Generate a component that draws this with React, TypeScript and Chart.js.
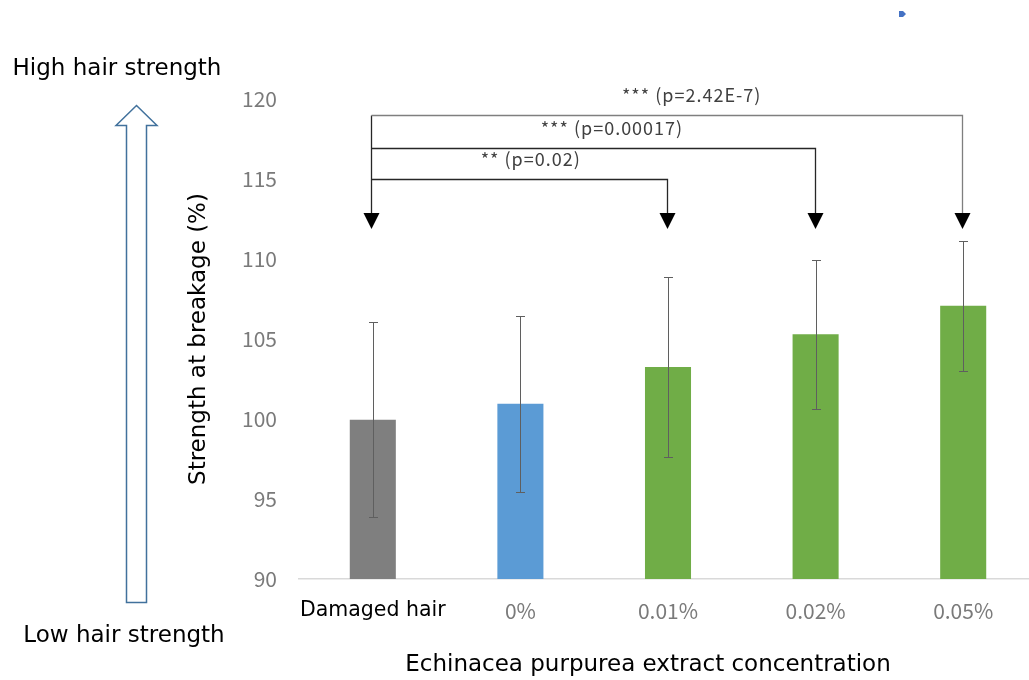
import React, { useEffect, useRef } from 'react';
import { Chart, registerables } from 'chart.js';

Chart.register(...registerables);

const categories = ['Damaged hair', '0%', '0.01%', '0.02%', '0.05%'];
const strengthMeans = [99.95, 100.95, 103.25, 105.3, 107.08];
const strengthErrors = [6.1, 5.5, 5.6, 4.65, 4.05];
const barColors = ['#7f7f7f', '#5b9bd5', '#70ad47', '#70ad47', '#70ad47'];
const yTickValues = [90, 95, 100, 105, 110, 115, 120];

// significance brackets (category indices, bracket level in axis units, label)
const bracketFrom = [0, 0, 0];
const bracketTo = [2, 3, 4];
const bracketLevels = [115, 116.95, 119];
const bracketLabels = ['** (p=0.02)', '*** (p=0.00017)', '*** (p=2.42E-7)'];
const bracketLabelPos = [1.07, 1.62, 2.16];
const bracketColors = ['#262626', '#262626', '#7f7f7f'];
const arrowTipLevel = 111.875;

const sideTopText = 'High hair strength';
const sideBottomText = 'Low hair strength';
const xTitleText = 'Echinacea purpurea extract concentration';
const yTitleText = 'Strength at breakage (%)';

const overlayPlugin = {
  id: 'overlay',
  afterDraw(chart: any) {
    const { ctx } = chart;
    const x = chart.scales.x;
    const y = chart.scales.y;
    const x0 = x.getPixelForValue(0);
    const step = x.getPixelForValue(1) - x0;
    const px = (v: number) => x0 + v * step;
    ctx.save();

    // error bars
    ctx.strokeStyle = '#5f5f5f';
    ctx.lineWidth = 1;
    strengthMeans.forEach((m, i) => {
      const cx = Math.round(px(i)) + 0.5;
      const t = Math.round(y.getPixelForValue(m + strengthErrors[i])) + 0.5;
      const b = Math.round(y.getPixelForValue(m - strengthErrors[i])) + 0.5;
      ctx.beginPath();
      ctx.moveTo(cx, t);
      ctx.lineTo(cx, b);
      ctx.moveTo(cx - 4.5, t);
      ctx.lineTo(cx + 4.5, t);
      ctx.moveTo(cx - 4.5, b);
      ctx.lineTo(cx + 4.5, b);
      ctx.stroke();
    });

    // brackets
    const tipY = y.getPixelForValue(arrowTipLevel);
    const headH = 16;
    const headW = 8;
    const baseY = tipY - headH;
    const fromX = Math.round(px(bracketFrom[0])) - 1.5;
    const topLevel = Math.max(...bracketLevels);
    ctx.lineWidth = 1.3;
    ctx.strokeStyle = '#262626';
    ctx.beginPath();
    ctx.moveTo(fromX, Math.round(y.getPixelForValue(topLevel)) + 0.5);
    ctx.lineTo(fromX, baseY);
    ctx.stroke();
    const heads: number[] = [fromX];
    bracketLevels.forEach((lvl, i) => {
      const ly = Math.round(y.getPixelForValue(lvl)) + 0.5;
      const tx = Math.round(px(bracketTo[i])) - 0.5;
      ctx.strokeStyle = bracketColors[i];
      ctx.beginPath();
      ctx.moveTo(fromX, ly);
      ctx.lineTo(tx, ly);
      ctx.lineTo(tx, baseY);
      ctx.stroke();
      heads.push(tx);
      ctx.fillStyle = '#404040';
      ctx.font = '18px "Noto Sans CJK JP"';
      try {
        (ctx as any).letterSpacing = '1px';
      } catch (e) {
        /* ignore */
      }
      ctx.textAlign = 'center';
      ctx.textBaseline = 'middle';
      ctx.fillText(bracketLabels[i], px(bracketLabelPos[i]), ly - 20);
      try {
        (ctx as any).letterSpacing = '0px';
      } catch (e) {
        /* ignore */
      }
    });
    ctx.fillStyle = '#000';
    heads.forEach((hx) => {
      ctx.beginPath();
      ctx.moveTo(hx - headW, baseY);
      ctx.lineTo(hx + headW, baseY);
      ctx.lineTo(hx, tipY);
      ctx.closePath();
      ctx.fill();
    });

    // left hollow arrow
    ctx.beginPath();
    ctx.moveTo(136.5, 105.5);
    ctx.lineTo(157, 125.5);
    ctx.lineTo(146.5, 125.5);
    ctx.lineTo(146.5, 602.5);
    ctx.lineTo(126.5, 602.5);
    ctx.lineTo(126.5, 125.5);
    ctx.lineTo(116, 125.5);
    ctx.closePath();
    ctx.fillStyle = '#ffffff';
    ctx.fill();
    ctx.strokeStyle = '#41719c';
    ctx.lineWidth = 1.5;
    ctx.stroke();

    // small blue marker at top
    ctx.beginPath();
    ctx.moveTo(899, 11);
    ctx.lineTo(903, 11);
    ctx.lineTo(906, 14);
    ctx.lineTo(903, 17);
    ctx.lineTo(899, 17);
    ctx.closePath();
    ctx.fillStyle = '#4472c4';
    ctx.fill();

    // side texts and x title
    ctx.fillStyle = '#000';
    ctx.font = '23px "DejaVu Sans"';
    ctx.textAlign = 'center';
    ctx.textBaseline = 'alphabetic';
    ctx.fillText(sideTopText, 117, 75);
    ctx.fillText(sideBottomText, 124, 642);
    ctx.fillText(xTitleText, 648, 671);
    ctx.restore();
  },
};

export default function App() {
  const ref = useRef<HTMLCanvasElement>(null);
  useEffect(() => {
    const chart = new Chart(ref.current as HTMLCanvasElement, {
      type: 'bar',
      data: {
        labels: categories,
        datasets: [
          {
            data: strengthMeans,
            backgroundColor: barColors,
            borderWidth: 0,
            barPercentage: 0.312,
            categoryPercentage: 1,
          },
        ],
      },
      options: {
        responsive: false,
        animation: false,
        events: [],
        layout: { padding: { top: 99, left: 0, right: 0, bottom: 0 } },
        plugins: { legend: { display: false }, tooltip: { enabled: false } },
        scales: {
          x: {
            afterFit: (s: any) => {
              s.height = 101;
            },
            grid: { display: false, drawTicks: false },
            border: { display: true, color: '#d9d9d9', width: 1.5 },
            ticks: {
              color: (c: any) => (c.index === 0 ? '#000000' : '#7a7a7a'),
              font: (c: any) =>
                c.index === 0
                  ? { family: 'DejaVu Sans', size: 20.5 }
                  : { family: 'Noto Sans CJK JP', size: 21 },
              padding: 19,
              maxRotation: 0,
              autoSkip: false,
            },
          },
          y: {
            min: 90,
            max: 120,
            afterBuildTicks: (s: any) => {
              s.ticks = yTickValues.map((v) => ({ value: v }));
            },
            afterFit: (s: any) => {
              s.width = 299;
            },
            grid: { display: false, drawTicks: false },
            border: { display: false },
            ticks: {
              color: '#7a7a7a',
              font: { family: 'Noto Sans CJK JP', size: 21 },
              padding: 22,
            },
            title: {
              display: true,
              text: yTitleText,
              color: '#000000',
              font: { family: 'DejaVu Sans', size: 23 },
              padding: { top: 185, bottom: 0 },
            },
          },
        },
      },
      plugins: [overlayPlugin],
    });
    return () => chart.destroy();
  }, []);
  return (
    <div
      style={{
        position: 'fixed',
        left: 0,
        top: 0,
        width: 1029,
        height: 680,
        overflow: 'hidden',
        background: '#ffffff',
      }}
    >
      <canvas ref={ref} width={1037} height={680} style={{ display: 'block', width: 1037, height: 680 }} />
    </div>
  );
}
